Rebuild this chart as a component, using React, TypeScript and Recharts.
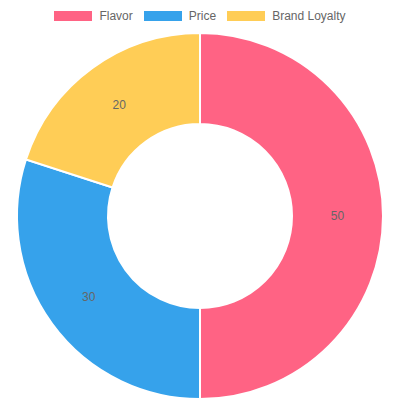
import { Cell, Legend, Pie, PieChart } from 'recharts';

const categories = ['Flavor', 'Price', 'Brand Loyalty'];
const values = [50, 30, 20];
const colors = ['#FF6384', '#36A2EB', '#FFCD56'];

const data = categories.map((name, i) => ({ name, value: values[i] }));

const RAD = Math.PI / 180;

function renderLabel(props: any) {
  const { cx, cy, midAngle, innerRadius, outerRadius, value } = props;
  const r = (innerRadius + outerRadius) / 2;
  const x = cx + r * Math.cos(-midAngle * RAD);
  const y = cy + r * Math.sin(-midAngle * RAD);
  return (
    <text x={x} y={y} fill="#666" fontSize={12} textAnchor="middle" dominantBaseline="central">
      {value}
    </text>
  );
}

function LegendContent() {
  return (
    <div style={{ display: 'flex', justifyContent: 'center', alignItems: 'center', gap: 11, height: 32 }}>
      {categories.map((name, i) => (
        <div key={name} style={{ display: 'flex', alignItems: 'center', gap: 7 }}>
          <span style={{ display: 'inline-block', width: 38, height: 10, background: colors[i] }} />
          <span style={{ fontSize: 12, color: '#666' }}>{name}</span>
        </div>
      ))}
    </div>
  );
}

export default function App() {
  return (
    <div style={{ position: 'absolute', top: 0, left: 0, width: 400, height: 400, background: '#fff', fontFamily: '"Helvetica Neue", Helvetica, Arial, sans-serif' }}>
      <PieChart width={400} height={400} margin={{ top: 0, right: 0, bottom: 0, left: 0 }}>
        <Legend verticalAlign="top" content={<LegendContent />} wrapperStyle={{ top: 0, left: 0, width: 400, height: 32 }} />
        <Pie
          data={data}
          dataKey="value"
          nameKey="name"
          cx={200}
          cy={184}
          innerRadius={92}
          outerRadius={183}
          startAngle={90}
          endAngle={-270}
          stroke="#fff"
          strokeWidth={2}
          label={renderLabel}
          labelLine={false}
          isAnimationActive={false}
        >
          {data.map((d, i) => (
            <Cell key={d.name} fill={colors[i]} />
          ))}
        </Pie>
      </PieChart>
    </div>
  );
}
